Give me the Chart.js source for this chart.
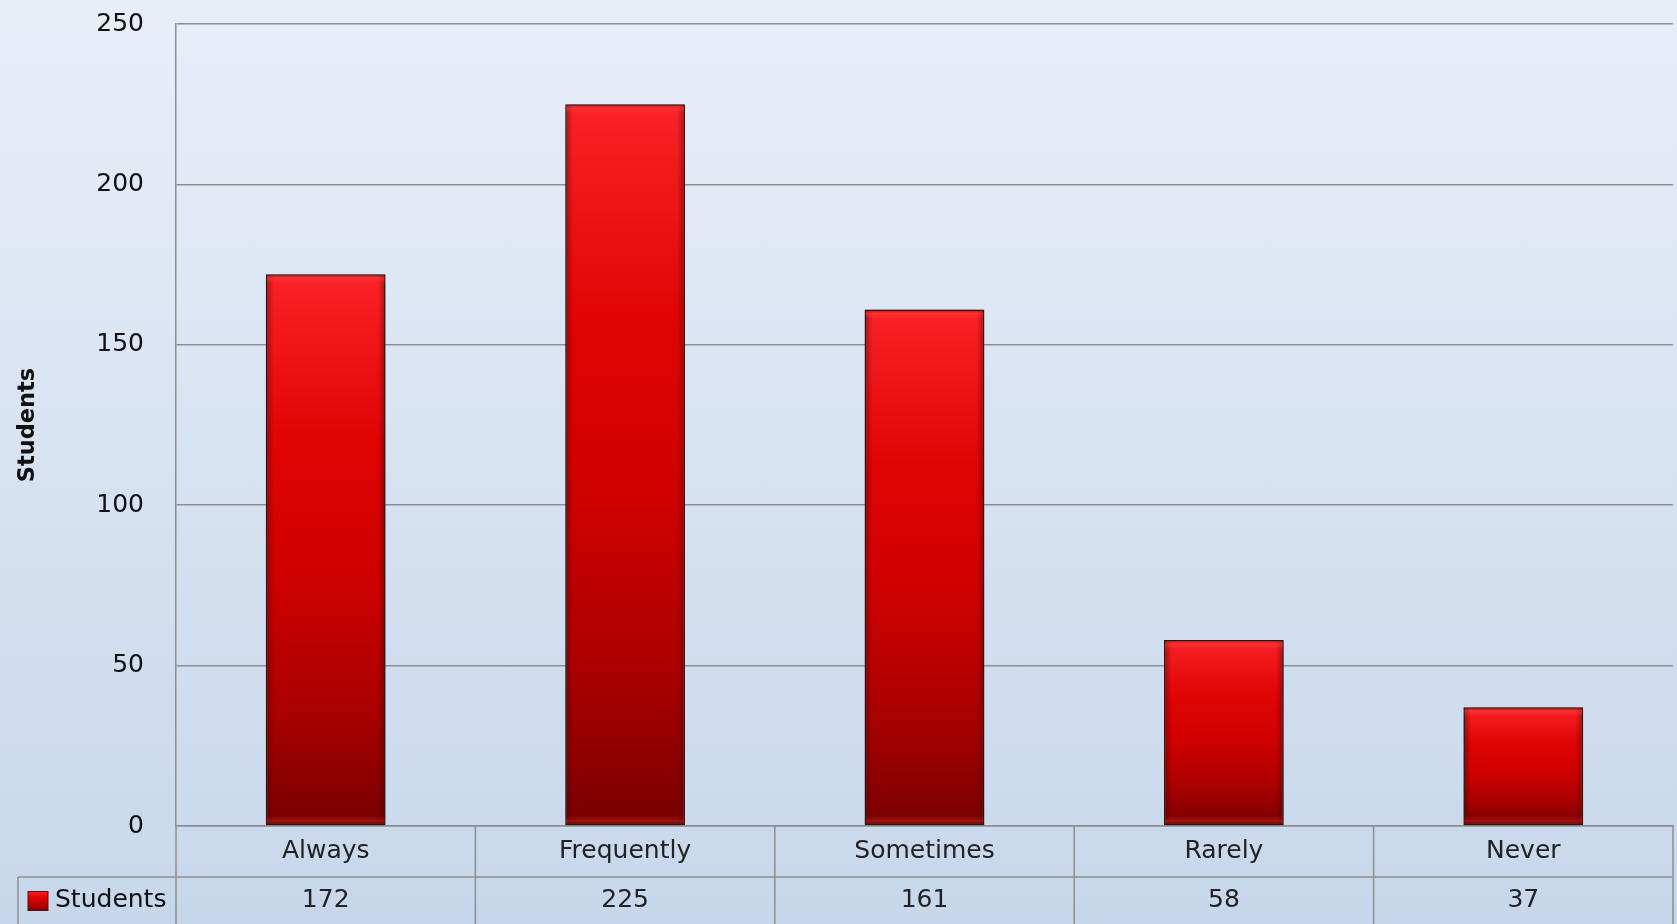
<!DOCTYPE html>
<html>
<head>
<meta charset="utf-8">
<script src="https://cdn.jsdelivr.net/npm/chart.js@4"></script>
<style>
  html, body { margin: 0; padding: 0; }
  body {
    width: 1677px; height: 924px; overflow: hidden;
    background: linear-gradient(#e8eef8, #c7d7eb);
  }
  #wrap { position: relative; width: 1677px; height: 924px; }
</style>
</head>
<body>
<div id="wrap"><canvas id="studentsChart"></canvas></div>
<script>
const categories = ['Always', 'Frequently', 'Sometimes', 'Rarely', 'Never'];
const studentCounts = [172, 225, 161, 58, 37];
const seriesName = 'Students';
const yMax = 250;
const yStep = 50;

const FONT = '"DejaVu Sans", sans-serif';
const LINE = '#8e8e8e';

function barGradient(ctx, top, bottom) {
    var g = ctx.createLinearGradient(0, top, 0, bottom);
    g.addColorStop(0, '#fb2328');
    g.addColorStop(0.08, '#f31a1e');
    g.addColorStop(0.3, '#e00404');
    g.addColorStop(0.55, '#cf0000');
    g.addColorStop(0.8, '#a80000');
    g.addColorStop(1, '#780000');
    return g;
}

// soft shadow around the bars
var barShadow = {
    id: 'barShadow',
    beforeDatasetsDraw(chart) {
        var ctx = chart.ctx;
        ctx.save();
        ctx.shadowColor = 'rgba(0, 0, 0, 0.4)';
        ctx.shadowBlur = 8;
        ctx.shadowOffsetX = 0;
        ctx.shadowOffsetY = 0;
    },
    afterDatasetsDraw(chart) {
        chart.ctx.restore();
    }
};

// glassy bevel on top of each bar
var barBevel = {
    id: 'barBevel',
    afterDatasetsDraw(chart) {
        var ctx = chart.ctx;
        chart.getDatasetMeta(0).data.forEach(bar => {
            var l = bar.x - bar.width / 2 + 1, r = bar.x + bar.width / 2 - 1;
            var t = bar.y + 1, b = bar.base - 1;
            ctx.save();
            var gl = ctx.createLinearGradient(l, 0, l + 7, 0);
            gl.addColorStop(0, 'rgba(50,0,0,0.35)');
            gl.addColorStop(1, 'rgba(50,0,0,0)');
            ctx.fillStyle = gl;
            ctx.fillRect(l, t, 7, b - t);
            var gr = ctx.createLinearGradient(r, 0, r - 7, 0);
            gr.addColorStop(0, 'rgba(50,0,0,0.35)');
            gr.addColorStop(1, 'rgba(50,0,0,0)');
            ctx.fillStyle = gr;
            ctx.fillRect(r - 7, t, 7, b - t);
            var gt = ctx.createLinearGradient(0, t, 0, t + 8);
            gt.addColorStop(0, 'rgba(120,0,0,0.35)');
            gt.addColorStop(0.35, 'rgba(255,80,80,0.35)');
            gt.addColorStop(1, 'rgba(255,80,80,0)');
            ctx.fillStyle = gt;
            ctx.fillRect(l, t, r - l, 8);
            var gb = ctx.createLinearGradient(0, b, 0, b - 9);
            gb.addColorStop(0, 'rgba(60,0,0,0.4)');
            gb.addColorStop(0.3, 'rgba(200,40,40,0.45)');
            gb.addColorStop(1, 'rgba(200,40,40,0)');
            ctx.fillStyle = gb;
            ctx.fillRect(l, b - 9, r - l, 9);
            ctx.restore();
        });
    }
};

// data table under the x axis
var dataTable = {
    id: 'dataTable',
    afterDraw(chart) {
        var ctx = chart.ctx;
        var area = chart.chartArea;
        var xs = chart.scales.x;
        var rowTop = xs.bottom;
        var h = chart.height;
        var n = categories.length;
        var colW = (area.right - area.left) / n;
        var tableLeft = 18;

        ctx.save();
        ctx.strokeStyle = LINE;
        ctx.lineWidth = 1.5;
        ctx.beginPath();
        ctx.moveTo(tableLeft, rowTop);
        ctx.lineTo(area.right, rowTop);
        ctx.moveTo(tableLeft, rowTop);
        ctx.lineTo(tableLeft, h);
        for (var i = 0; i <= n; i++) {
            var x = area.left + i * colW;
            ctx.moveTo(x, area.bottom);
            ctx.lineTo(x, h);
        }
        ctx.stroke();

        var midY = (rowTop + h) / 2;
        ctx.fillStyle = '#222';
        ctx.font = '25px ' + FONT;
        ctx.textAlign = 'center';
        ctx.textBaseline = 'middle';
        studentCounts.forEach((v, i) => {
            ctx.fillText(String(v), xs.getPixelForValue(i), midY);
        });

        // legend key
        var kx = 28, ky = midY - 9;
        ctx.fillStyle = barGradient(ctx, ky, ky + 19);
        ctx.fillRect(kx, ky, 20, 19);
        ctx.strokeStyle = '#5a1010';
        ctx.lineWidth = 1;
        ctx.strokeRect(kx, ky, 20, 19);
        ctx.fillStyle = '#111';
        ctx.textAlign = 'left';
        ctx.fillText(chart.data.datasets[0].label, 55, midY);
        ctx.restore();
    }
};

var ctxStudents = document.getElementById('studentsChart').getContext('2d');
var studentsChart = new Chart(ctxStudents, {
    type: 'bar',
    data: {
        labels: categories,
        datasets: [{
            label: seriesName,
            data: studentCounts,
            backgroundColor: function(c) {
                var chart = c.chart;
                var ys = chart.scales.y;
                if (!chart.chartArea || !ys || c.raw === undefined) return '#d00000';
                return barGradient(chart.ctx, ys.getPixelForValue(c.raw), ys.getPixelForValue(0));
            },
            borderColor: '#3e1212',
            borderWidth: 1.5,
            borderSkipped: false,
            categoryPercentage: 1.0,
            barPercentage: 0.4
        }]
    },
    options: {
        responsive: true,
        maintainAspectRatio: false,
        animation: false,
        layout: {
            padding: { left: 0, top: 24, right: 4, bottom: 47 }
        },
        scales: {
            x: {
                grid: { display: false },
                border: { display: true, color: LINE, width: 1.5 },
                ticks: {
                    color: '#222',
                    font: { family: FONT, size: 25 },
                    padding: 2,
                    maxRotation: 0
                },
                afterFit(scale) { scale.height = 51; }
            },
            y: {
                min: 0,
                max: yMax,
                ticks: {
                    stepSize: yStep,
                    color: '#111',
                    font: { family: FONT, size: 25 },
                    padding: 32
                },
                grid: {
                    color: LINE,
                    lineWidth: 1.5,
                    drawTicks: false
                },
                border: { display: true, color: LINE, width: 1.5 },
                title: {
                    display: true,
                    text: seriesName,
                    color: '#111',
                    font: { family: FONT, size: 22.5, weight: 'bold' },
                    padding: { top: 15, bottom: 0 }
                },
                afterFit(scale) {
                    scale.width = 176;
                    scale.paddingTop = 0;
                    scale.paddingBottom = 0;
                }
            }
        },
        plugins: {
            legend: { display: false },
            tooltip: { enabled: false }
        }
    },
    plugins: [barShadow, barBevel, dataTable]
});
</script>
</body>
</html>
